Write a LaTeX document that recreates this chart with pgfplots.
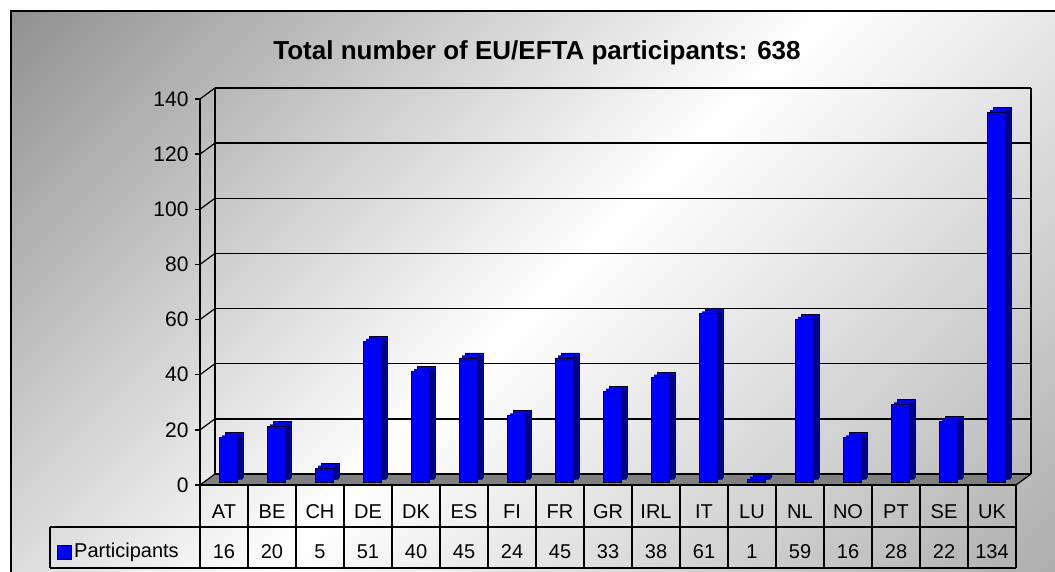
\documentclass[border=0pt]{standalone}
\usepackage{pgfplots}
\pgfplotsset{compat=1.18}
\usepackage{pgfplotstable}
\usepackage{fontspec}
\setmainfont{Liberation Sans}
\definecolor{barblue}{RGB}{0,0,255}
\definecolor{barnavy}{RGB}{0,0,128}
\definecolor{floorgray}{RGB}{128,128,128}
\definecolor{bgTL}{RGB}{100,100,100}
\definecolor{bgBR}{RGB}{135,135,135}
\pgfdeclareverticalshading{bgshade}{100bp}{color(0bp)=(bgBR); color(50bp)=(white); color(100bp)=(bgTL)}

\pgfplotstableread{
idx lab val
0 AT 16
1 BE 20
2 CH 5
3 DE 51
4 DK 40
5 ES 45
6 FI 24
7 FR 45
8 GR 33
9 IRL 38
10 IT 61
11 LU 1
12 NL 59
13 NO 16
14 PT 28
15 SE 22
16 UK 134
}\data

\begin{document}
\begin{tikzpicture}
\useasboundingbox (0,0) rectangle (1055pt,571pt);
\clip (0,0) rectangle (1055pt,571pt);
\fill[white] (0,0) rectangle (1055pt,571pt);
\shade[shading=bgshade, shading angle=45] (11pt,-20pt) rectangle (1070pt,560pt);
\draw[line width=2pt] (11pt,-20pt) -- (11pt,560pt) -- (1070pt,560pt);
\node[font=\bfseries\fontsize{26}{30}\selectfont] at (537pt,518pt) {Total number of EU/EFTA participants: 638};

\begin{axis}[
  at={(200pt,86pt)}, anchor=south west,
  scale only axis, width=816pt, height=386pt,
  xmin=-0.5, xmax=16.5, ymin=0, ymax=140,
  clip=false,
  axis lines*=left,
  axis line style={-, line width=1.5pt},
  x axis line style={draw=none},
  xtick=data, xticklabels from table={\data}{lab},
  xtick style={draw=none},
  ytick={0,20,...,140},
  ytick style={line width=1.5pt, black},
  tick align=outside, major tick length=5pt,
  /pgf/number format/assume math mode=true,
  ticklabel style={font=\fontsize{21}{25}\selectfont},
  xticklabel style={anchor=center, yshift=-22pt, font=\fontsize{20}{24}\selectfont},
  yticklabel style={xshift=-3pt},
]
% floor
\fill[floorgray] (axis cs:-0.5,0) -- (axis cs:16.5,0) -- ([shift={(15pt,11pt)}]axis cs:16.5,0) -- ([shift={(15pt,11pt)}]axis cs:-0.5,0) -- cycle;
\draw[line width=1.2pt] (axis cs:16.5,0) -- ([shift={(15pt,11pt)}]axis cs:16.5,0);
% back wall gridlines and left wall diagonals
\draw[line width=1.5pt] ([shift={(15pt,11pt)}]axis cs:-0.5,0) -- ([shift={(15pt,11pt)}]axis cs:16.5,0);
\draw[line width=1.5pt] ([shift={(15pt,11pt)}]axis cs:-0.5,20) -- ([shift={(15pt,11pt)}]axis cs:16.5,20);
\draw[line width=1.5pt] ([shift={(15pt,11pt)}]axis cs:-0.5,40) -- ([shift={(15pt,11pt)}]axis cs:16.5,40);
\draw[line width=1.5pt] ([shift={(15pt,11pt)}]axis cs:-0.5,60) -- ([shift={(15pt,11pt)}]axis cs:16.5,60);
\draw[line width=1.5pt] ([shift={(15pt,11pt)}]axis cs:-0.5,80) -- ([shift={(15pt,11pt)}]axis cs:16.5,80);
\draw[line width=1.5pt] ([shift={(15pt,11pt)}]axis cs:-0.5,100) -- ([shift={(15pt,11pt)}]axis cs:16.5,100);
\draw[line width=1.5pt] ([shift={(15pt,11pt)}]axis cs:-0.5,120) -- ([shift={(15pt,11pt)}]axis cs:16.5,120);
\draw[line width=1.5pt] ([shift={(15pt,11pt)}]axis cs:-0.5,140) -- ([shift={(15pt,11pt)}]axis cs:16.5,140);
\draw[line width=1.5pt] ([shift={(15pt,11pt)}]axis cs:-0.5,0) -- ([shift={(15pt,11pt)}]axis cs:-0.5,140);
\draw[line width=1.5pt] ([shift={(15pt,11pt)}]axis cs:16.5,0) -- ([shift={(15pt,11pt)}]axis cs:16.5,140);
\draw[line width=1.2pt] (axis cs:-0.5,0) -- ([shift={(15pt,11pt)}]axis cs:-0.5,0);
\draw[line width=1.2pt] (axis cs:-0.5,20) -- ([shift={(15pt,11pt)}]axis cs:-0.5,20);
\draw[line width=1.2pt] (axis cs:-0.5,40) -- ([shift={(15pt,11pt)}]axis cs:-0.5,40);
\draw[line width=1.2pt] (axis cs:-0.5,60) -- ([shift={(15pt,11pt)}]axis cs:-0.5,60);
\draw[line width=1.2pt] (axis cs:-0.5,80) -- ([shift={(15pt,11pt)}]axis cs:-0.5,80);
\draw[line width=1.2pt] (axis cs:-0.5,100) -- ([shift={(15pt,11pt)}]axis cs:-0.5,100);
\draw[line width=1.2pt] (axis cs:-0.5,120) -- ([shift={(15pt,11pt)}]axis cs:-0.5,120);
\draw[line width=1.2pt] (axis cs:-0.5,140) -- ([shift={(15pt,11pt)}]axis cs:-0.5,140);
% bars (pseudo 3D)
\addplot[ybar, bar width=18pt, bar shift=0pt, fill=barblue, draw=black, line width=0.8pt, xshift=10pt, yshift=8pt] table[x=idx,y=val]{\data};
\addplot[ybar, bar width=18pt, bar shift=0pt, fill=barblue, draw=none, xshift=7pt, yshift=5.5pt] table[x=idx,y=val]{\data};
\addplot[ybar, bar width=5.6pt, bar shift=15.8pt, fill=barnavy, draw=none, yshift=5.5pt] table[x=idx,y=val]{\data};
\addplot[ybar, bar width=18pt, bar shift=0pt, fill=barblue, draw=black, line width=0.8pt, xshift=4pt, yshift=3pt] table[x=idx,y=val]{\data};
% data table values
\addplot[draw=none, mark=none, nodes near coords, point meta=explicit,
  every node near coord/.append style={anchor=center, font=\fontsize{20}{24}\selectfont}]
  table[x=idx, y expr=-24.3, meta=val]{\data};
\end{axis}

% data table grid
\draw[line width=1.5pt] (200pt,86pt) -- (1016pt,86pt);
\draw[line width=1.5pt] (50pt,44pt) -- (1016pt,44pt);
\draw[line width=1.5pt] (50pt,3pt) -- (1016pt,3pt);
\draw[line width=1.5pt] (50pt,44pt) -- (50pt,3pt);
\foreach \i in {0,...,17} {
  \draw[line width=1.5pt] ({200pt+48pt*\i},86pt) -- ({200pt+48pt*\i},3pt);
}
\draw[fill=barblue, line width=0.8pt] (57pt,12pt) rectangle (71pt,26pt);
\node[anchor=west, font=\fontsize{20}{24}\selectfont, inner sep=0pt] at (74pt,19pt) {Participants};
\end{tikzpicture}
\end{document}
